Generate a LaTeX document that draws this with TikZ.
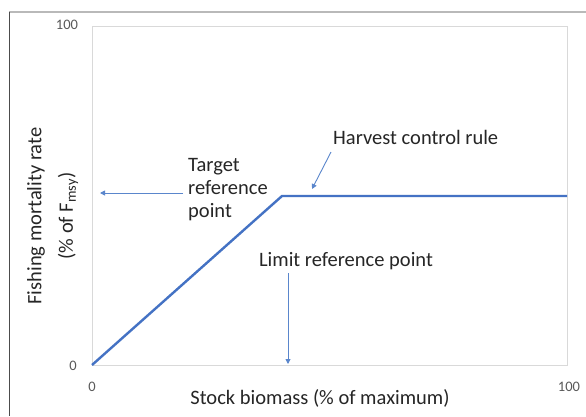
\documentclass[tikz,border=0pt]{standalone}
\usepackage{fontspec}
\setmainfont{Carlito}
\usetikzlibrary{arrows.meta}
\definecolor{hcrblue}{HTML}{4472C4}
\definecolor{arrblue}{HTML}{5A86CC}
\definecolor{ticktext}{HTML}{595959}
\definecolor{plotborder}{HTML}{D9D9D9}
\begin{document}
\begin{tikzpicture}[x=1pt,y=-1pt,
  lbl/.style={font=\fontsize{20.5}{23}\selectfont, text=black!85, inner sep=0pt},
  ticklbl/.style={font=\fontsize{14.5}{17}\selectfont, text=ticktext, inner sep=0pt},
  pointer/.style={draw=arrblue, line width=0.9pt, -{Triangle[length=5pt,width=5pt]}},
  rule/.style={draw=hcrblue, line width=2.4pt, line join=round}]
\useasboundingbox (0,0) rectangle (586,416);
\fill[white] (0,0) rectangle (586,416);
% outer frame
\draw[gray!55, line width=1.8pt] (9,12) -- (586,12);
\draw[black!70, line width=0.9pt] (9,11.5) -- (9,416);
% plot area
\node[draw=plotborder, line width=1pt, minimum width=475pt, minimum height=339pt, inner sep=0pt, anchor=north west] (plot) at (92,26) {};
% tick labels
\node[ticklbl] (y100) at (67,25) {100};
\node[ticklbl] (y0) at (73,366) {0};
\node[ticklbl] (x0) at (92,387) {0};
\node[ticklbl] (x100) at (569,387) {100};
% axis titles
\node[lbl, rotate=90] (ytitle) at (36,216) {Fishing mortality rate};
\node[lbl, rotate=90] (ytitle2) at (68,216) {(\% of F\textsubscript{msy})};
\node[lbl] (xtitle) at (320,398) {Stock biomass (\% of maximum)};
% harvest control rule
\coordinate (origin) at (92,365);
\coordinate (kink) at (282,196);
\coordinate (hcrend) at (567,196);
\draw[rule] (origin) -- (kink) -- (hcrend);
% labels
\node[lbl, anchor=west] (hcr) at (333,137) {Harvest control rule};
\coordinate (hcrtip) at (312,189);
\draw[pointer] (331,152) -- (hcrtip);
\node[lbl, anchor=west, align=left] (tgt) at (188,190) {Target\\reference\\point};
\coordinate (tgttip) at (100,193);
\draw[pointer] (tgt.west |- tgttip) ++(-5,0) -- (tgttip);
\node[lbl] (lim) at (346,261) {Limit reference point};
\coordinate (limtop) at (288,273);
\coordinate (limtip) at (288,364);
\draw[pointer] (limtop) -- (limtip);
\end{tikzpicture}
\end{document}
